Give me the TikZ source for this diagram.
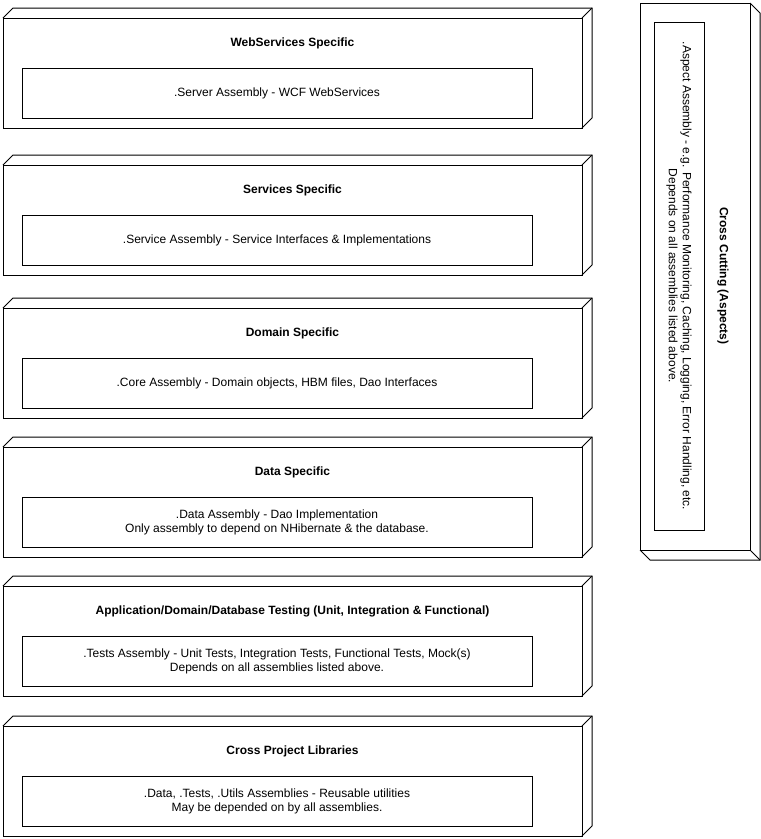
\documentclass[tikz,border=0pt]{standalone}
\usepackage{fontspec}
\setmainfont{Liberation Sans}
\usetikzlibrary{calc}
\begin{document}
\begin{tikzpicture}[x=1pt,y=-1pt,
  face/.style={draw, line width=1pt, outer sep=0pt, inner sep=0pt, fill=white},
  edge3d/.style={draw, line width=1pt, line join=miter},
  title/.style={font=\fontsize{12}{14}\selectfont\bfseries, inner sep=0pt},
  body/.style={font=\fontsize{12}{14}\selectfont, align=center}]
\useasboundingbox[fill=white] (0,0) rectangle (761,839);

% one layer: name, top of front face, title, content
\newcommand\layerbox[4]{%
  \node[face, minimum width=579pt, minimum height=110pt, anchor=north west] (#1) at (3,#2) {};
  \draw[edge3d] (#1.north west) -- ++(10,-10) -| ($(#1.south east)+(10,-10)$) -- (#1.south east);
  \draw[edge3d] (#1.north east) -- ++(10,-10);
  \node[title] (#1-title) at ($(#1.north)+(0,25)$) {#3};
  \node[face, body, minimum width=510pt, minimum height=50pt, anchor=north west]
    (#1-inner) at ($(#1.north west)+(19,50)$) {#4};
}

\layerbox{web}{18}{WebServices Specific}{.Server Assembly - WCF WebServices}
\layerbox{svc}{165}{Services Specific}{.Service Assembly - Service Interfaces \& Implementations}
\layerbox{dom}{308}{Domain Specific}{.Core Assembly - Domain objects, HBM files, Dao Interfaces}
\layerbox{data}{447}{Data Specific}{.Data Assembly - Dao Implementation\\Only assembly to depend on NHibernate \& the database.}
\layerbox{test}{586}{Application/Domain/Database Testing (Unit, Integration \& Functional)}{.Tests Assembly - Unit Tests, Integration Tests, Functional Tests, Mock(s)\\Depends on all assemblies listed above.}
\layerbox{lib}{726}{Cross Project Libraries}{.Data, .Tests, .Utils Assemblies - Reusable utilities\\May be depended on by all assemblies.}

% vertical cross-cutting column
\node[face, minimum width=110pt, minimum height=547pt, anchor=north west] (cc) at (640,3) {};
\draw[edge3d] (cc.north east) -- ++(10,10) |- ($(cc.south west)+(10,10)$) -- (cc.south west);
\draw[edge3d] (cc.south east) -- ++(10,10);
\node[title, rotate=-90] (cc-title) at (723,276) {Cross Cutting (Aspects)};
\node[face, body, rotate=-90, minimum width=508pt, minimum height=50pt] (cc-inner) at (679,276)
  {.Aspect Assembly - e.g. Performance Monitoring, Caching, Logging, Error Handling, etc.\\Depends on all assemblies listed above.};
\end{tikzpicture}
\end{document}
